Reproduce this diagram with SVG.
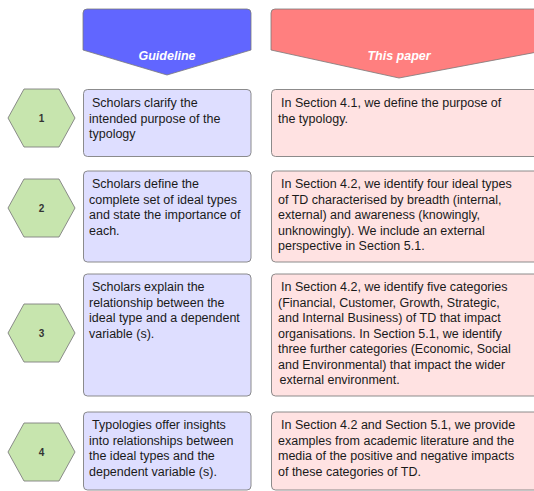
<svg xmlns="http://www.w3.org/2000/svg" width="534" height="491" viewBox="0 0 534 491">
<defs>
<style>
.hdr-b{fill:#6166FF;stroke:#7a7a7a;stroke-width:0.8}
.hdr-p{fill:#FF7F7F;stroke:#7a7a7a;stroke-width:0.8}
.htxt{font-family:"Liberation Sans",Arial,sans-serif;font-size:12.5px;font-weight:bold;font-style:italic;fill:#ffffff;text-anchor:middle}
.gbox{fill:#DEDEFF;stroke:#7f7f7f;stroke-width:0.9}
.pbox{fill:#FFE2E2;stroke:#7f7f7f;stroke-width:0.9}
.hex{fill:#C7E5AE;stroke:#7f7f7f;stroke-width:0.9;stroke-linejoin:round}
.num{font-family:"Liberation Sans",Arial,sans-serif;font-size:10px;font-weight:bold;fill:#333333;text-anchor:middle}
.t{font-family:"Liberation Sans",Arial,sans-serif;font-size:12.5px;fill:#1a1a1a}
</style>
</defs>
<g id="header-guideline">
<path class="hdr-b" d="M87,9 H247 Q251,9 251,13 V50 L167,75 L83,50 V13 Q83,9 87,9 Z"/>
<text class="htxt" x="167" y="60">Guideline</text>
</g>
<g id="header-paper">
<path class="hdr-p" d="M275,9 H548 V50 L399,78 L271,50 V13 Q271,9 275,9 Z"/>
<text class="htxt" x="399" y="60">This paper</text>
</g>
<g id="step1">
<path class="hex" d="M8,118 L24,89 L59,89 L75,118 L59,147 L24,147 Z"/>
<text class="num" x="41.5" y="121.5">1</text>
</g>
<g id="step2">
<path class="hex" d="M8,208 L24,179 L59,179 L75,208 L59,237 L24,237 Z"/>
<text class="num" x="41.5" y="211.5">2</text>
</g>
<g id="step3">
<path class="hex" d="M8,333 L24,304 L59,304 L75,333 L59,362 L24,362 Z"/>
<text class="num" x="41.5" y="336.5">3</text>
</g>
<g id="step4">
<path class="hex" d="M8,452 L24,423 L59,423 L75,452 L59,481 L24,481 Z"/>
<text class="num" x="41.5" y="455.5">4</text>
</g>
<g id="guideline1">
<rect class="gbox" x="83.5" y="89.5" width="167.5" height="67" rx="4"/>
<text class="t"><tspan x="92" y="107">Scholars clarify the</tspan><tspan x="89" y="122.5">intended purpose of the</tspan><tspan x="89" y="138">typology</tspan></text>
</g>
<g id="paper1">
<rect class="pbox" x="271.5" y="89.5" width="275" height="67" rx="4"/>
<text class="t"><tspan x="281" y="107">In Section 4.1, we define the purpose of</tspan><tspan x="278" y="122.5">the typology.</tspan></text>
</g>
<g id="guideline2">
<rect class="gbox" x="83.5" y="171" width="167.5" height="91" rx="4"/>
<text class="t"><tspan x="92" y="188">Scholars define the</tspan><tspan x="89" y="203.5">complete set of ideal types</tspan><tspan x="89" y="219">and state the importance of</tspan><tspan x="89" y="234.5">each.</tspan></text>
</g>
<g id="paper2">
<rect class="pbox" x="271.5" y="171" width="275" height="91" rx="4"/>
<text class="t"><tspan x="281" y="188">In Section 4.2, we identify four ideal types</tspan><tspan x="278" y="203.5">of TD characterised by breadth (internal,</tspan><tspan x="278" y="219">external) and awareness (knowingly,</tspan><tspan x="278" y="234.5">unknowingly). We include an external</tspan><tspan x="278" y="250">perspective in Section 5.1.</tspan></text>
</g>
<g id="guideline3">
<rect class="gbox" x="83.5" y="274" width="167.5" height="122" rx="4"/>
<text class="t"><tspan x="92" y="291">Scholars explain the</tspan><tspan x="89" y="306.5">relationship between the</tspan><tspan x="89" y="322">ideal type and a dependent</tspan><tspan x="89" y="337.5">variable (s).</tspan></text>
</g>
<g id="paper3">
<rect class="pbox" x="271.5" y="274" width="275" height="122" rx="4"/>
<text class="t"><tspan x="281" y="291">In Section 4.2, we identify five categories</tspan><tspan x="278" y="306.5">(Financial, Customer, Growth, Strategic,</tspan><tspan x="278" y="322">and Internal Business) of TD that impact</tspan><tspan x="278" y="337.5">organisations. In Section 5.1, we identify</tspan><tspan x="278" y="353">three further categories (Economic, Social</tspan><tspan x="278" y="368.5">and Environmental) that impact the wider</tspan><tspan x="279.5" y="384">external environment.</tspan></text>
</g>
<g id="guideline4">
<rect class="gbox" x="83.5" y="412" width="167.5" height="78" rx="4"/>
<text class="t"><tspan x="92" y="429">Typologies offer insights</tspan><tspan x="89" y="444.5">into relationships between</tspan><tspan x="89" y="460">the ideal types and the</tspan><tspan x="89" y="475.5">dependent variable (s).</tspan></text>
</g>
<g id="paper4">
<rect class="pbox" x="271.5" y="412" width="275" height="78" rx="4"/>
<text class="t"><tspan x="281" y="429">In Section 4.2 and Section 5.1, we provide</tspan><tspan x="278" y="444.5">examples from academic literature and the</tspan><tspan x="278" y="460">media of the positive and negative impacts</tspan><tspan x="278" y="475.5">of these categories of TD.</tspan></text>
</g>
<g id="connectors"></g>
</svg>
